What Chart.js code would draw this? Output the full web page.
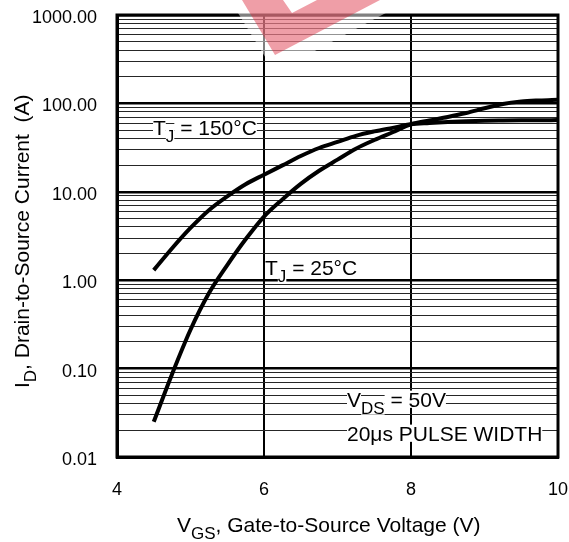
<!DOCTYPE html>
<html>
<head>
<meta charset="utf-8">
<script src="https://cdn.jsdelivr.net/npm/chart.js@4.4.0/dist/chart.umd.min.js"></script>
<style>
  html, body { margin: 0; padding: 0; background: #fff; }
</style>
</head>
<body>
<canvas id="myChart" width="569" height="542"></canvas>
<script>
// gate voltage sweep (V)
const vgs = [4.5, 4.75, 5, 5.25, 5.5, 5.75, 6, 6.25, 6.5, 6.75, 7, 7.25, 7.5, 7.75,
             8, 8.25, 8.5, 8.75, 9, 9.25, 9.5, 9.75, 10];

// drain current (A) at TJ = 150°C
const id_150 = [1.3, 2.3, 3.9, 6.2, 8.9, 12.2, 15.6, 19.9, 25.4, 31.3, 36.7, 43, 48.2, 52.9,
                58, 60, 61.7, 63, 63.8, 64.2, 64.5, 64.6, 64.7];

// drain current (A) at TJ = 25°C
const id_25 = [0.025, 0.087, 0.275, 0.71, 1.48, 2.9, 5.25, 8.2, 12.3, 17.3, 23.1, 30.7, 38.5, 47.2,
               58, 64, 70.3, 78, 88, 98.6, 105, 108, 110];

const x_ticks = [4, 6, 8, 10];
const y_decades = [0.01, 0.1, 1, 10, 100, 1000];

const FONT_FAMILY = "'Liberation Sans', Arial, sans-serif";
const MAIN_FONT = "21px " + FONT_FAMILY;
const SUB_FONT = "17px " + FONT_FAMILY;

// full log grid: 1..9 per decade
const y_grid = [];
for (let i = 0; i < y_decades.length - 1; i++) {
    for (let k = 1; k < 10; k++) y_grid.push(+(y_decades[i] * k).toPrecision(3));
}
y_grid.push(y_decades[y_decades.length - 1]);

function isDecade(v) {
    const l = Math.log10(v);
    return Math.abs(l - Math.round(l)) < 1e-6;
}

function toPoints(xs, ys) {
    return xs.map((x, i) => ({ x: x, y: ys[i] }));
}

// keep the plot box fixed, labels may hang outside it
function noScalePadding(scale) {
    scale.paddingTop = 0;
    scale.paddingBottom = 0;
    scale.paddingLeft = 0;
    scale.paddingRight = 0;
}

// text with subscripts, optional white backing behind each run
function drawRuns(ctx, x, y, runs, backing) {
    runs.forEach(r => {
        const size = r.sub ? 17 : 21;
        ctx.font = r.sub ? SUB_FONT : MAIN_FONT;
        const by = y + (r.sub ? 7 : 0);
        const w = ctx.measureText(r.t).width;
        if (backing) {
            ctx.fillStyle = '#fff';
            ctx.fillRect(x, by - size * 0.78, w, size * 0.82);
        }
        ctx.fillStyle = '#000';
        ctx.fillText(r.t, x, by);
        x += w;
    });
}

const sheetText = {
    id: 'sheetText',
    afterDraw(chart) {
        const ctx = chart.ctx;
        const a = chart.chartArea;
        ctx.save();

        // plot frame
        ctx.strokeStyle = '#000';
        ctx.lineWidth = 3;
        ctx.strokeRect(a.left, a.top, a.right - a.left, a.bottom - a.top);

        ctx.textBaseline = 'alphabetic';
        ctx.textAlign = 'left';

        drawRuns(ctx, a.left + 36, a.top + 120, [{ t: 'T' }, { t: 'J', sub: true }, { t: ' = 150°C' }], true);
        drawRuns(ctx, a.left + 148, a.top + 260, [{ t: 'T' }, { t: 'J', sub: true }, { t: ' = 25°C' }], true);
        drawRuns(ctx, a.left + 230, a.top + 392, [{ t: 'V' }, { t: 'DS', sub: true }, { t: ' = 50V' }], true);
        drawRuns(ctx, a.left + 230, a.top + 426, [{ t: '20μs PULSE WIDTH' }], true);

        // x axis title
        drawRuns(ctx, 177, 532, [{ t: 'V' }, { t: 'GS', sub: true }, { t: ', Gate-to-Source Voltage (V)' }], false);

        // y axis title, rotated
        ctx.save();
        ctx.translate(29, 388);
        ctx.rotate(-Math.PI / 2);
        drawRuns(ctx, 0, 0, [{ t: 'I' }, { t: 'D', sub: true }, { t: ', Drain-to-Source Current  (A)' }], false);
        ctx.restore();

        // red mark at the top edge
        ctx.fillStyle = 'rgba(255,255,255,0.5)';
        ctx.beginPath();
        ctx.moveTo(230, 0); ctx.lineTo(267, 60); ctx.lineTo(298, 60); ctx.lineTo(410, 0);
        ctx.closePath();
        ctx.fill();

        ctx.fillStyle = 'rgba(220,40,60,0.45)';
        ctx.beginPath();
        ctx.moveTo(242, 0); ctx.lineTo(275, 55); ctx.lineTo(380, 0); ctx.closePath();
        ctx.moveTo(283, 0); ctx.lineTo(292, 13); ctx.lineTo(317, 0); ctx.closePath();
        ctx.fill('evenodd');

        ctx.restore();
    }
};

const config = {
    type: 'line',
    data: {
        datasets: [
            { label: 'TJ = 150°C', data: toPoints(vgs, id_150) },
            { label: 'TJ = 25°C', data: toPoints(vgs, id_25) }
        ]
    },
    options: {
        responsive: false,
        animation: false,
        layout: { padding: { top: 15, right: 11, left: 0, bottom: 0 } },
        elements: {
            line: { borderColor: '#000', borderWidth: 4, cubicInterpolationMode: 'monotone', fill: false },
            point: { radius: 0 }
        },
        plugins: {
            legend: { display: false },
            tooltip: { enabled: false }
        },
        scales: {
            x: {
                type: 'linear',
                min: 4,
                max: 10,
                afterFit: (scale) => { scale.height = 85; noScalePadding(scale); },
                afterBuildTicks: (scale) => { scale.ticks = x_ticks.map(v => ({ value: v })); },
                ticks: { color: '#000', font: { family: FONT_FAMILY, size: 18 }, padding: 22, autoSkip: false, maxRotation: 0 },
                grid: { color: '#000', lineWidth: 2, drawTicks: false },
                border: { color: '#000', width: 3 }
            },
            y: {
                type: 'logarithmic',
                min: 0.01,
                max: 1000,
                afterFit: (scale) => { scale.width = 117; noScalePadding(scale); },
                afterBuildTicks: (scale) => { scale.ticks = y_grid.map(v => ({ value: v })); },
                ticks: {
                    color: '#000',
                    font: { family: FONT_FAMILY, size: 18 },
                    padding: 20,
                    labelOffset: 3,
                    autoSkip: false,
                    callback: (v) => isDecade(v) ? v.toFixed(2) : ''
                },
                grid: {
                    drawTicks: false,
                    color: (c) => isDecade(c.tick.value) ? '#000' : '#262626',
                    lineWidth: (c) => isDecade(c.tick.value) ? 2.5 : 1
                },
                border: { color: '#000', width: 3 }
            }
        }
    },
    plugins: [sheetText]
};

var ctx = document.getElementById('myChart').getContext('2d');
var myChart = new Chart(ctx, config);
</script>
</body>
</html>
